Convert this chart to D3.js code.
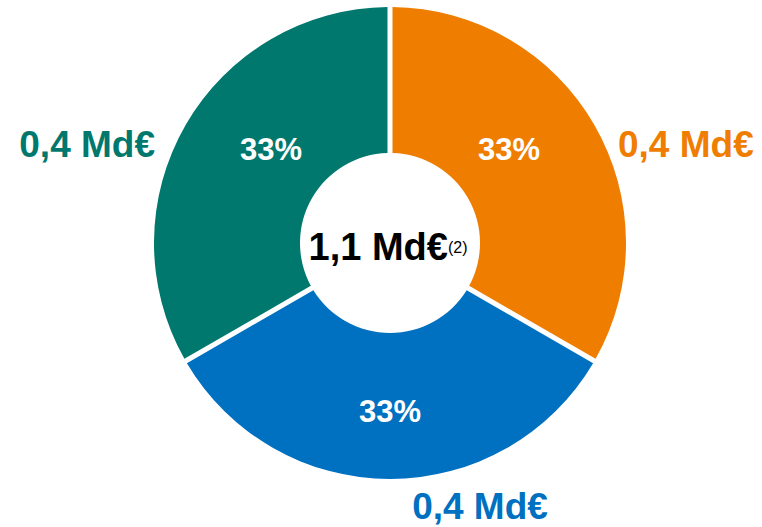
<!DOCTYPE html>
<html>
<head>
<meta charset="utf-8">
<script src="https://cdn.jsdelivr.net/npm/d3@7"></script>
<style>
  html, body { margin: 0; padding: 0; background: #ffffff; }
  svg { display: block; font-family: "Liberation Sans", Arial, sans-serif; }
</style>
</head>
<body>
<svg id="chart" width="762" height="527"></svg>
<script>
// ---- data ----
const categories = ["Orange", "Bleu", "Vert"];
const values = [0.4, 0.4, 0.4];
const percentLabels = ["33%", "33%", "33%"];
const amountLabels = ["0,4 Md€", "0,4 Md€", "0,4 Md€"];
const totalLabel = "1,1 Md€";
const totalNote = "(2)";
const colors = ["#EF7D00", "#0070C0", "#00786E"];

// ---- layout ----
const W = 762, H = 527;
const cx = 390, cy = 243;
const outerR = 236, innerR = 90;
const gap = 5;

const svg = d3.select("#chart");
const g = svg.append("g").attr("transform", `translate(${cx},${cy})`);

const pie = d3.pie().sort(null).value(d => d);
const arcs = pie(values);

const arc = d3.arc()
  .innerRadius(innerR)
  .outerRadius(outerR)
  .padAngle(gap / outerR)
  .padRadius(outerR);

g.selectAll("path.slice")
  .data(arcs)
  .join("path")
  .attr("class", "slice")
  .attr("d", arc)
  .attr("fill", (d, i) => colors[i]);

// percent labels inside slices (radius / angle tweak per slice to mimic reference)
const pctPlace = [
  { r: 152, shift: -8.5 },
  { r: 168, shift: 0 },
  { r: 152, shift: 8.5 }
];
g.selectAll("text.pct")
  .data(arcs)
  .join("text")
  .attr("class", "pct")
  .each(function (d, i) {
    const mid = (d.startAngle + d.endAngle) / 2 + pctPlace[i].shift * Math.PI / 180;
    const [x, y] = d3.pointRadial(mid, pctPlace[i].r);
    d3.select(this).attr("x", x).attr("y", y);
  })
  .attr("text-anchor", "middle")
  .attr("dy", "0.36em")
  .attr("fill", "#ffffff")
  .attr("font-weight", "bold")
  .attr("font-size", 31)
  .text((d, i) => percentLabels[i]);

// outer amount labels
const amtPlace = [
  { dx: 228, dy: -86, anchor: "start" },
  { dx: 90, dy: 276, anchor: "middle" },
  { dx: -235, dy: -86, anchor: "end" }
];
g.selectAll("text.amt")
  .data(arcs)
  .join("text")
  .attr("class", "amt")
  .attr("x", (d, i) => amtPlace[i].dx)
  .attr("y", (d, i) => amtPlace[i].dy)
  .attr("text-anchor", (d, i) => amtPlace[i].anchor)
  .attr("fill", (d, i) => colors[i])
  .attr("font-weight", "bold")
  .attr("font-size", 37)
  .text((d, i) => amountLabels[i]);

// center total
const center = g.append("text")
  .attr("x", -2)
  .attr("y", 17)
  .attr("text-anchor", "middle")
  .attr("fill", "#000000");
center.append("tspan")
  .attr("font-weight", "bold")
  .attr("font-size", 38)
  .text(totalLabel);
center.append("tspan")
  .attr("font-size", 16)
  .attr("dy", -7)
  .text(totalNote);
</script>
</body>
</html>
